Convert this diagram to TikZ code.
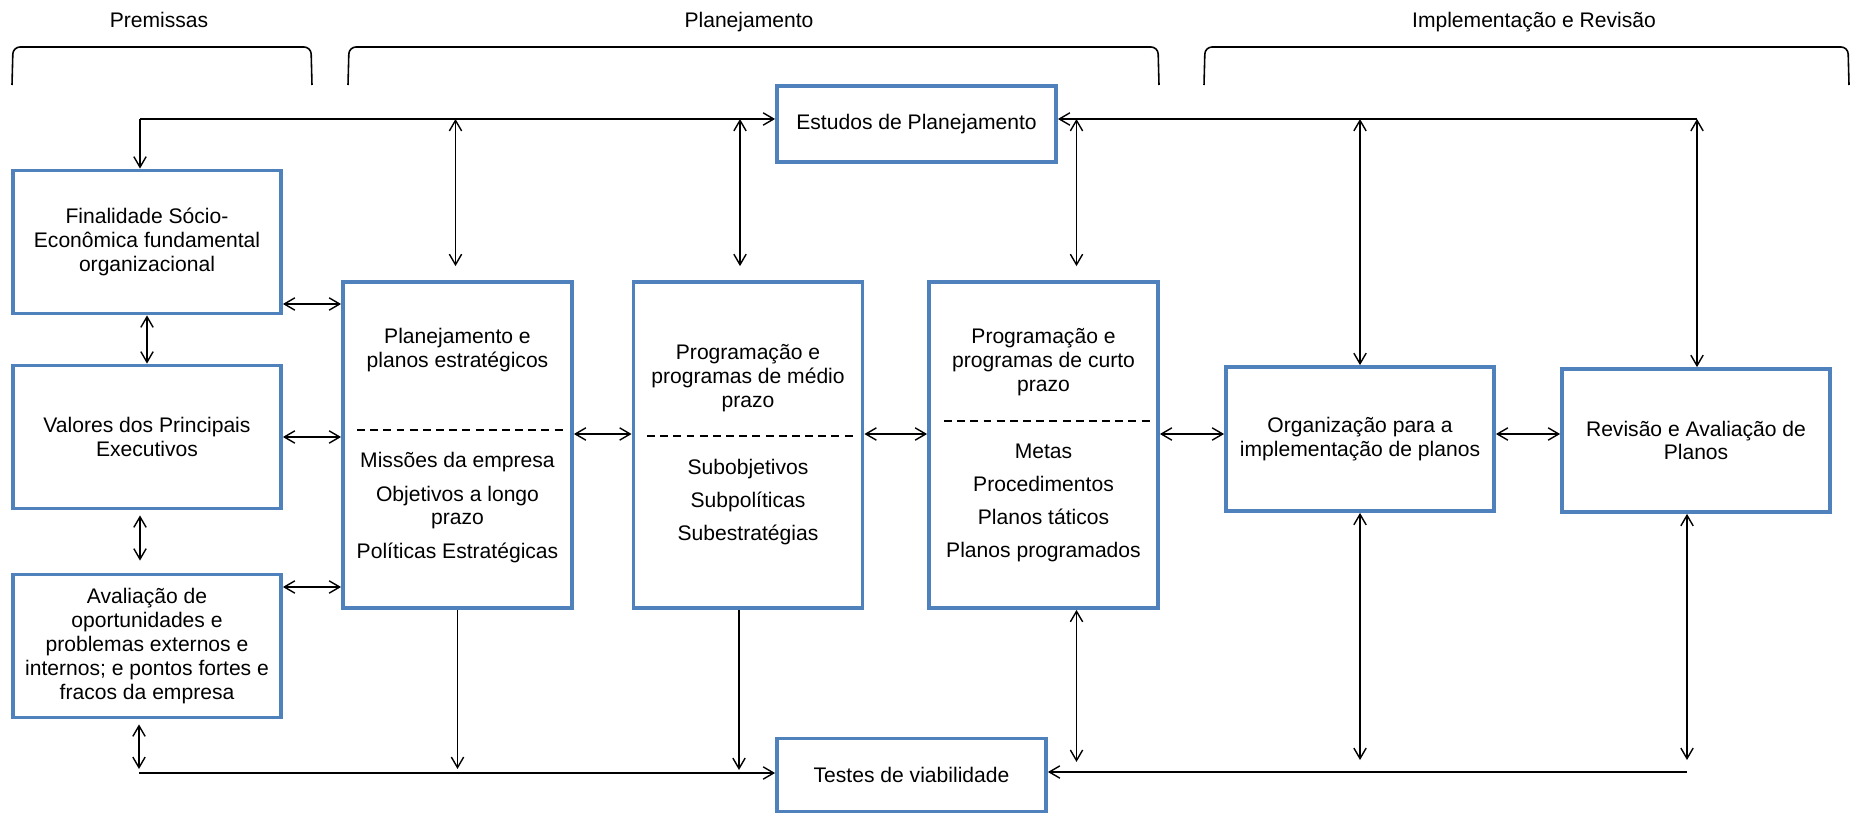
\documentclass[tikz,border=0pt]{standalone}
\usepackage{fontspec}
\setmainfont{Liberation Sans}
\usetikzlibrary{arrows.meta,calc}
\definecolor{azul}{RGB}{79,129,189}
\newcommand{\texto}{\fontsize{12}{13.6}\selectfont}

\begin{document}
\begin{tikzpicture}[x=0.02cm, y=-0.02cm, font=\texto,
    >={Straight Barb[length=6pt,width=7pt]},
    caixa/.style={draw=azul, line width=2.2pt, align=center, inner sep=0pt,
        minimum width=5.36cm, minimum height=2.86cm},
    coluna/.style={caixa, minimum width=4.58cm, minimum height=6.52cm},
    rotulo/.style={align=center, inner sep=0pt},
    chave/.style={line width=0.9pt, rounded corners=4pt},
    linha/.style={line width=0.8pt},
    tracejado/.style={line width=1.1pt, dash pattern=on 4.5pt off 3pt}]
    \useasboundingbox (0,0) rectangle (1852,814);

    % titulos e chaves
    \node[anchor=base] (premissas) at (159,28) {Premissas};
    \node[anchor=base] (planejamento) at (749,28) {Planejamento};
    \node[anchor=base] (implementacao) at (1534,28) {Implementação e Revisão};
    \foreach \a/\b in {12/312, 348/1159, 1204/1849}
        \draw[chave] (\a,85) -- (\a+1,47) -- (\b-1,47) -- (\b,85);

    % caixas
    \node[caixa, minimum width=5.58cm, minimum height=1.52cm] (estudos) at (916.5,124) {Estudos de Planejamento};
    \node[caixa, minimum width=5.38cm, minimum height=1.46cm] (testes) at (911.5,775) {Testes de viabilidade};
    \node[caixa] (final) at (147,242) {Finalidade Sócio-\\Econômica fundamental\\organizacional};
    \node[caixa] (val) at (147,437) {Valores dos Principais\\Executivos};
    \node[caixa] (aval) at (147,646) {Avaliação de\\oportunidades e\\problemas externos e\\internos; e pontos fortes e\\fracos da empresa};
    \node[caixa, minimum height=2.88cm] (org) at (1360,439) {Organização para a\\implementação de planos};
    \node[caixa] (rev) at (1696,440.5) {Revisão e Avaliação de\\Planos};

    \node[coluna] (pe) at (457.5,445) {};
    \node[rotulo] (pe-tit) at (457.5,350) {Planejamento e\\planos estratégicos};
    \draw[tracejado] (357,430) -- (564,430);
    \node[rotulo] (pe-itens) at (457.5,507.5) {Missões da empresa\\[5.5pt]Objetivos a longo\\prazo\\[5.5pt]Políticas Estratégicas};

    \node[coluna] (me) at (748,445) {};
    \node[rotulo] (me-tit) at (748,378) {Programação e\\programas de médio\\prazo};
    \draw[tracejado] (647,436) -- (854,436);
    \node[rotulo] (me-itens) at (748,502) {Subobjetivos\\[5.3pt]Subpolíticas\\[5.3pt]Subestratégias};

    \node[coluna] (cu) at (1043.5,445) {};
    \node[rotulo] (cu-tit) at (1043.5,362) {Programação e\\programas de curto\\prazo};
    \draw[tracejado] (944,421) -- (1150,421);
    \node[rotulo] (cu-itens) at (1043.5,503) {Metas\\[5.3pt]Procedimentos\\[5.3pt]Planos táticos\\[5.3pt]Planos programados};

    % linhas de cima e de baixo
    \coordinate (te) at (140,119);
    \coordinate (td) at (1697,119);
    \coordinate (be) at (139,773);
    \coordinate (bd) at (1687,772);
    \draw[linha, ->] (te) -- (estudos.west |- te);
    \draw[linha, ->] (te) -- (te |- final.north);
    \draw[linha, ->] (td) -- (estudos.east |- td);
    \draw[linha, ->] (be) -- (be -| testes.west);
    \draw[linha, ->] (bd) -- (bd -| testes.east);

    % setas verticais
    \coordinate (pe-t) at ($(pe.north)+(-2,-14)$);
    \coordinate (me-t) at ($(me.north)+(-8,-14)$);
    \coordinate (cu-t) at ($(cu.north)+(33,-14)$);
    \draw[linha, <->] (pe-t |- te) -- (pe-t);
    \draw[linha, <->] (me-t |- te) -- (me-t);
    \draw[linha, <->] (cu-t |- te) -- (cu-t);
    \draw[linha, <->] (org.north |- td) -- (org.north);
    \draw[linha, <->] (td) -- (td |- rev.north);
    \draw[linha, <->] (final.south) -- (val.north);
    \draw[linha, <->] ([shift={(-7,5)}]val.south) -- ([shift={(-7,-12)}]aval.north);
    \draw[linha, <->] ($(be |- aval.south)+(0,5)$) -- ($(be)+(0,-4)$);
    \draw[linha, ->] (pe.south) -- ($(pe.south |- be)+(0,-4)$);
    \draw[linha, ->] ($(me.south)+(-9,0)$) -- ($(me.south |- be)+(-9,-3)$);
    \draw[linha, <->] ($(cu.south)+(33,0)$) -- ($(cu.south)+(33,152)$);
    \draw[linha, <->] (org.south) -- ($(org.south |- bd)+(0,-12)$);
    \draw[linha, <->] (bd |- rev.south) -- ($(bd)+(0,-12)$);

    % setas horizontais
    \coordinate (f1) at ($(final.east)+(0,62)$);
    \coordinate (a1) at ($(aval.east)+(0,-59)$);
    \coordinate (m1) at ($(pe.east)+(0,-11)$);
    \draw[linha, <->] (f1) -- (f1 -| pe.west);
    \draw[linha, <->] (val.east) -- (val.east -| pe.west);
    \draw[linha, <->] (a1) -- (a1 -| pe.west);
    \draw[linha, <->] (m1) -- (m1 -| me.west);
    \draw[linha, <->] (m1 -| me.east) -- (m1 -| cu.west);
    \draw[linha, <->] (m1 -| cu.east) -- (m1 -| org.west);
    \draw[linha, <->] (m1 -| org.east) -- (m1 -| rev.west);
\end{tikzpicture}
\end{document}
